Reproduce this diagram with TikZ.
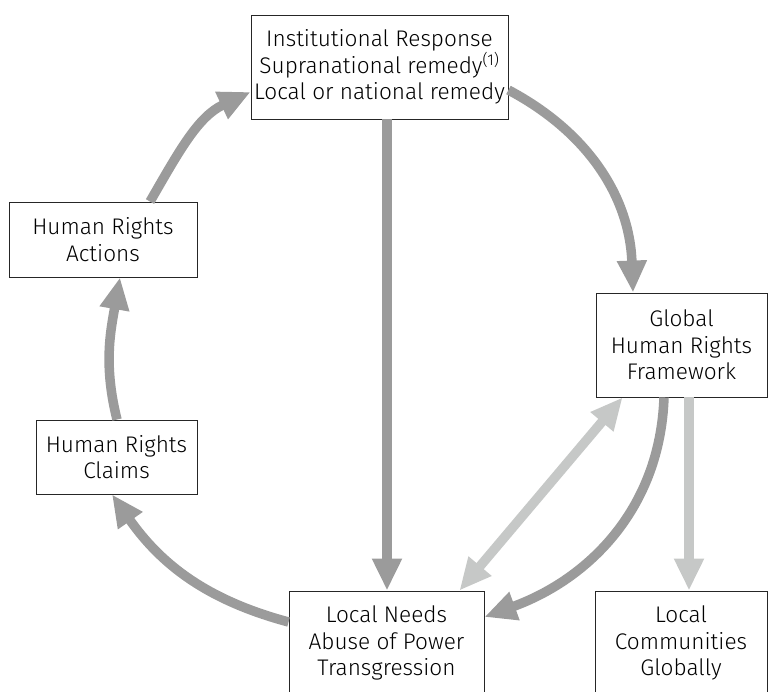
\documentclass[tikz,border=0pt]{standalone}
\usepackage{fontspec}
\setmainfont{Fira Sans}[UprightFont={* Light}]
\usetikzlibrary{arrows.meta,calc}
\definecolor{darkarr}{HTML}{9B9B9B}
\definecolor{lightarr}{HTML}{C6C8C7}
\tikzset{
  box/.style={draw=black!85, line width=0.9pt, fill=white, align=center, inner sep=0pt,
    font=\fontsize{22.6}{26.5}\selectfont},
  darkline/.style={draw=darkarr, line width=9.5pt, -{Triangle[length=32pt,width=28pt]}},
  lightline/.style={draw=lightarr, line width=9.5pt, -{Triangle[length=32pt,width=28pt]}},
  lightboth/.style={draw=lightarr, line width=9.5pt, {Triangle[length=32pt,width=28pt]}-{Triangle[length=32pt,width=28pt]}},
}
\begin{document}
\begin{tikzpicture}[x=1pt,y=1pt]
\useasboundingbox (0,0) rectangle (776,691);
\clip (0,0) rectangle (776,691);
\node[box, minimum width=257pt, minimum height=104pt] (top) at (379.5,624)
  {Institutional Response\\Supranational remedy\textsuperscript{(1)}\\Local or national remedy};
\node[box, minimum width=188pt, minimum height=75pt] (act) at (103,451.5) {Human Rights\\Actions};
\node[box, minimum width=161pt, minimum height=74pt] (clm) at (116.5,234) {Human Rights\\Claims};
\node[box, minimum width=171pt, minimum height=104pt] (glb) at (681.5,346) {Global\\Human Rights\\Framework};
\node[box, minimum width=195pt, minimum height=104pt] (lnd) at (386.5,48) {Local Needs\\Abuse of Power\\Transgression};
\node[box, minimum width=172pt, minimum height=104pt] (lcg) at (681,48) {Local\\Communities\\Globally};

\draw[darkline] ([xshift=0.5pt]clm.north) to[out=104,in=-100] ([xshift=17pt]act.south);
\draw[darkline] ([xshift=47pt]act.north) to[out=60,in=205] ([yshift=-25pt]top.west);
\draw[darkline] ([yshift=21pt]lnd.west) to[out=165,in=-55] ([xshift=-4.5pt]clm.south);
\draw[darkline] ([xshift=7.5pt]top.south) -- ([xshift=0.5pt]lnd.north);
\draw[darkline] ([yshift=-23pt]top.east) to[out=-28,in=92] ([xshift=-48.5pt]glb.north);
\draw[darkline] ([xshift=-17.5pt]glb.south) to[out=-92,in=20] ([yshift=26pt]lnd.east);
\draw[lightboth] ([xshift=27pt]glb.south west) -- ([xshift=-25pt]lnd.north east);
\draw[lightline] ([xshift=7.5pt]glb.south) -- ([xshift=8pt]lcg.north);
\end{tikzpicture}
\end{document}
